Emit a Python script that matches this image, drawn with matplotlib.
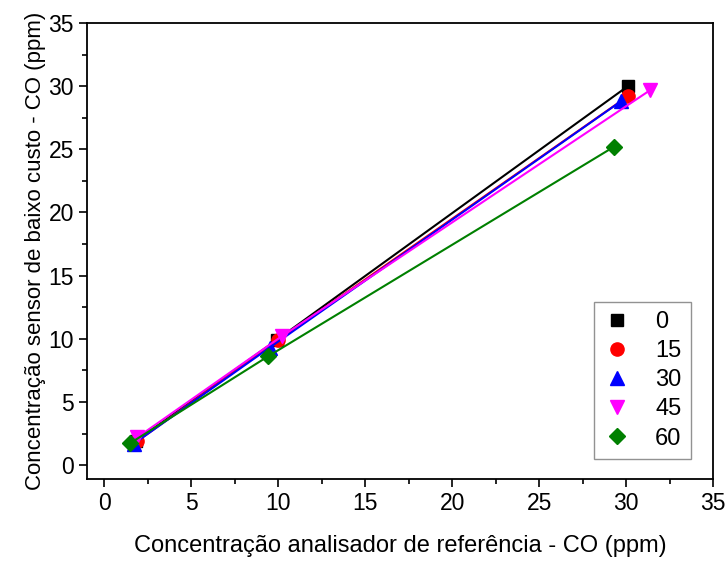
import matplotlib
matplotlib.use("Agg")
import matplotlib.pyplot as plt

plt.rcParams["font.family"] = ["Liberation Sans", "DejaVu Sans"]

LABELS = ["0", "15", "30", "45", "60"]
X0 = [1.8, 9.9, 30.1]
Y0 = [1.9, 9.9, 30.0]
X15 = [1.9, 10.0, 30.1]
Y15 = [1.9, 9.9, 29.2]
X30 = [1.7, 9.5, 29.7]
Y30 = [1.7, 9.3, 28.8]
X45 = [1.9, 10.2, 31.4]
Y45 = [2.2, 10.2, 29.7]
X60 = [1.5, 9.4, 29.3]
Y60 = [1.75, 8.6, 25.2]

series = [(X0, Y0), (X15, Y15), (X30, Y30), (X45, Y45), (X60, Y60)]
colors = ["black", "red", "blue", "magenta", "green"]
markers = ["s", "o", "^", "v", "D"]
msizes = [8.5, 9.5, 9.5, 10.5, 8.5]

fig = plt.figure(figsize=(7.28, 5.61), dpi=100)
ax = fig.add_axes([0.1195, 0.1462, 0.86, 0.8128])

for (x, y), c, m, ms, lab in zip(series, colors, markers, msizes, LABELS):
    ax.plot(x, y, "-", color=c, lw=1.5, marker=m, ms=ms, label=lab)

ax.set_xlim(-1.0, 35)
ax.set_ylim(-1.1, 35)
ax.set_xticks(range(0, 36, 5))
ax.set_yticks(range(0, 36, 5))
ax.set_xticks([2.5 + 5 * i for i in range(7)], minor=True)
ax.set_yticks([2.5 + 5 * i for i in range(7)], minor=True)
ax.tick_params(which="major", length=6, width=1.2, labelsize=16.5, direction="out")
ax.tick_params(which="minor", length=3.5, width=1.2, direction="out")
for s in ax.spines.values():
    s.set_linewidth(1.3)

ax.set_xlabel("Concentração analisador de referência - CO (ppm)", fontsize=17, labelpad=14)
ax.set_ylabel("Concentração sensor de baixo custo - CO (ppm)", fontsize=16, labelpad=2)

leg = ax.legend(loc="lower right", bbox_to_anchor=(691 / 728, 1 - 459 / 561),
                bbox_transform=fig.transFigure, fontsize=17, frameon=True, fancybox=False,
                edgecolor="#777777", borderpad=0.4, labelspacing=0.3,
                handlelength=1.2, handletextpad=1.0, borderaxespad=0)
leg.get_frame().set_linewidth(1.0)
for h in leg.legend_handles:
    h.set_linestyle("none")

fig.savefig("out.png", dpi=100)
